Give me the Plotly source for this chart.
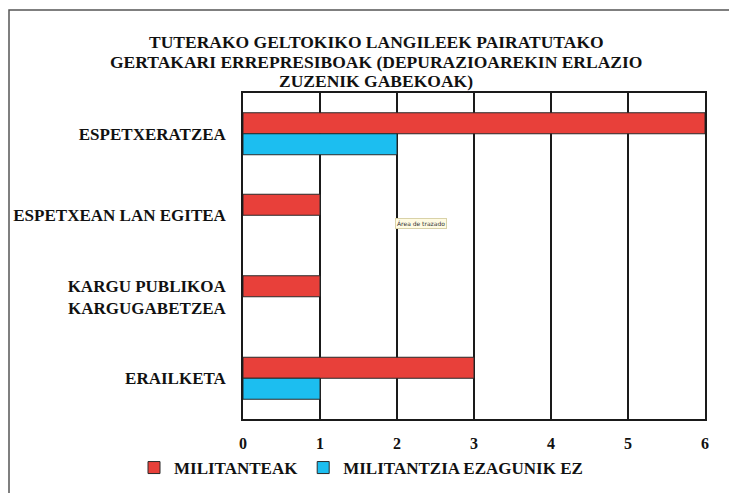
import plotly.graph_objects as go

categories = ["ESPETXERATZEA", "ESPETXEAN LAN EGITEA", "KARGU PUBLIKOA<br>KARGUGABETZEA", "ERAILKETA"]
series_names = ["MILITANTEAK", "MILITANTZIA EZAGUNIK EZ"]
militanteak = [6, 1, 1, 3]
ezagunik_ez = [2, 0, 0, 1]
x_ticks = [0, 1, 2, 3, 4, 5, 6]
title_lines = ["TUTERAKO GELTOKIKO LANGILEEK PAIRATUTAKO",
               "GERTAKARI ERREPRESIBOAK (DEPURAZIOAREKIN ERLAZIO",
               "ZUZENIK GABEKOAK)"]

FONT = "Liberation Serif, Times New Roman, serif"
OFF = 8  # page body margin
W, H = 737 - OFF, 493 - OFF
L, R, T, B = 243 - OFF, 32, 93 - OFF, 74

def edge_widths(vals):
    return [1 if v else 0 for v in vals]

fig = go.Figure()
fig.add_trace(go.Bar(y=categories, x=militanteak, name=series_names[0], orientation="h",
                     marker=dict(color="#e8403a",
                                 line=dict(color="#2a2a2a", width=edge_widths(militanteak)))))
fig.add_trace(go.Bar(y=categories, x=ezagunik_ez, name=series_names[1], orientation="h",
                     marker=dict(color="#1cbef0",
                                 line=dict(color="#2a2a2a", width=edge_widths(ezagunik_ez)))))

pw = W - L - R
ph = H - T - B

def px_to_x(px):
    return (px - OFF - L) / pw

def py_to_y(py):
    return (H - B - (py - OFF)) / ph

fig.update_layout(
    width=W, height=H,
    margin=dict(l=L, r=R, t=T, b=B, autoexpand=False),
    paper_bgcolor="white", plot_bgcolor="white",
    font=dict(family=FONT, size=17, color="#111", weight="bold"),
    barmode="group", bargap=0.485, bargroupgap=0,
    showlegend=True,
    legend=dict(orientation="h", x=px_to_x(134), xanchor="left", y=py_to_y(450), yanchor="top",
                yref="paper", itemwidth=30, traceorder="normal",
                font=dict(family=FONT, size=17, color="#111", weight="bold"),
                bgcolor="rgba(0,0,0,0)"),
    xaxis=dict(range=[0, 6], tickvals=x_ticks, showgrid=True, gridcolor="#1a1a1a", gridwidth=1.5,
               showline=True, linecolor="#1a1a1a", linewidth=1.5, mirror=True,
               tickfont=dict(size=16), automargin=False,
               ticks="", ticklabelstandoff=9, zeroline=False, fixedrange=True),
    yaxis=dict(autorange="reversed", showgrid=False, showline=True, linecolor="#1a1a1a",
               linewidth=1.5, mirror=True, ticks="", ticklabelstandoff=12, fixedrange=True,
               automargin=False),
)

# chart title, one annotation per line (centre of each line in page pixels)
for line, cy in zip(title_lines, [42, 62, 81]):
    fig.add_annotation(text=line, xref="paper", yref="paper", x=px_to_x(376), y=py_to_y(cy),
                       xanchor="center", yanchor="middle", showarrow=False,
                       font=dict(family=FONT, size=17.5, color="#111", weight="bold"))

# outer chart frame (left and top edges visible, others run off the picture)
fig.add_shape(type="rect", xref="paper", yref="paper",
              x0=px_to_x(9), x1=px_to_x(760), y0=py_to_y(10), y1=py_to_y(520),
              line=dict(color="#555", width=1.5), fillcolor="rgba(0,0,0,0)", layer="below")

# Excel tooltip artifact
fig.add_annotation(text="Área de trazado", xref="paper", yref="paper",
                   x=px_to_x(395), y=py_to_y(223), xanchor="left", yanchor="middle",
                   showarrow=False, bgcolor="#fffbe3", bordercolor="#d9d2a8", borderwidth=1,
                   borderpad=1, font=dict(family="DejaVu Sans", size=6, color="#333", weight="normal"))

fig.write_html("out.html")
